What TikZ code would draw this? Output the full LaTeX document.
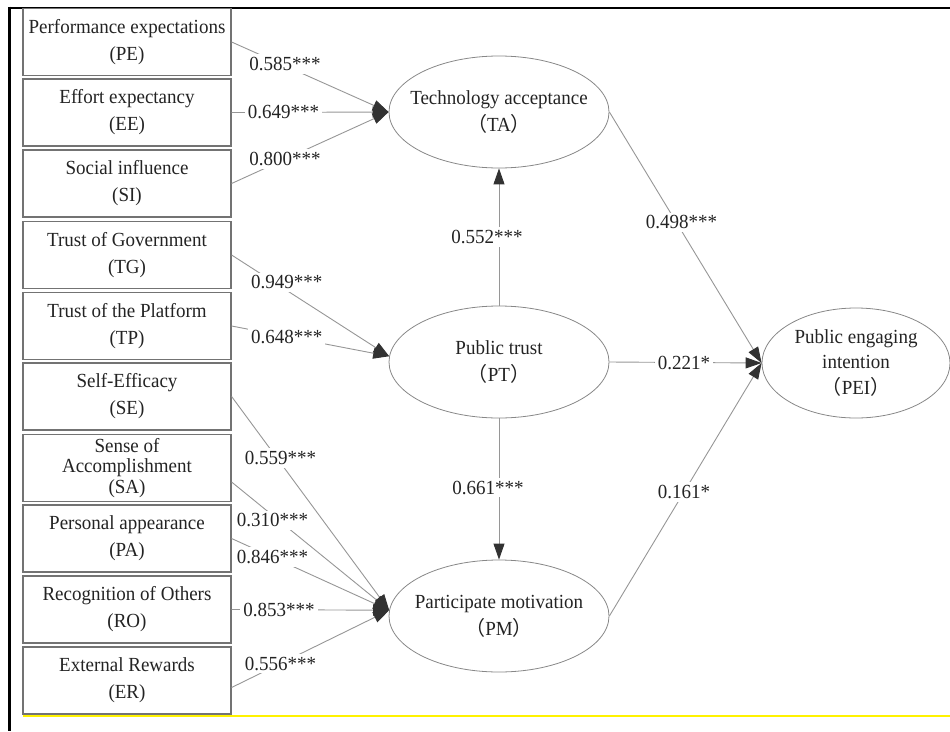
\documentclass[tikz,border=0pt]{standalone}
\usepackage{fontspec}
\setmainfont{Liberation Serif}[FakeStretch=0.95]
\newfontfamily\cjk{Noto Sans CJK SC}
\usetikzlibrary{arrows.meta,shapes.geometric,calc}
\definecolor{boxline}{RGB}{115,115,115}
\definecolor{ellline}{RGB}{135,135,135}
\definecolor{conline}{RGB}{150,150,150}
\definecolor{tipcol}{RGB}{50,50,50}
\definecolor{txt}{RGB}{35,35,35}
\newcommand{\fwl}{{\cjk （}}
\newcommand{\fwr}{{\cjk ）}}
\begin{document}
\begin{tikzpicture}[x=1pt,y=-1pt,
  every node/.style={font=\fontsize{20}{27}\selectfont, text=txt},
  varbox/.style={draw=boxline, line width=1.2pt, minimum width=208pt, minimum height=67pt, align=center, inner sep=0pt},
  latent/.style={draw=ellline, line width=0.8pt, ellipse, minimum width=220pt, minimum height=112pt, inner sep=0pt},
  conn/.style={draw=conline, line width=0.9pt, -{Triangle[length=16pt,width=11pt,color=tipcol]}},
  coef/.style={fill=white, inner sep=3pt},
]
\useasboundingbox (0,0) rectangle (950,731);
% frame
\draw[black, line width=2pt] (8,7.5) -- (950,7.5);
\draw[black, line width=3pt] (9,6.5) -- (9,731);
\draw[yellow, line width=2.5pt] (23,716) -- (950,716);

% observed variables
\node[varbox] (PE) at (127,42) {Performance expectations\\(PE)};
\node[varbox] (EE) at (127,112.5) {Effort expectancy\\(EE)};
\node[varbox] (SI) at (127,183.5) {Social influence\\(SI)};
\node[varbox] (TG) at (127,255) {Trust of Government\\(TG)};
\node[varbox] (TP) at (127,326) {Trust of the Platform\\(TP)};
\node[varbox] (SE) at (127,396.5) {Self-Efficacy\\(SE)};
\node[varbox, font=\fontsize{20}{20.5}\selectfont] (SA) at (127,468) {Sense of\\Accomplishment\\(SA)};
\node[varbox] (PA) at (127,538.5) {Personal appearance\\(PA)};
\node[varbox] (RO) at (127,609.5) {Recognition of Others\\(RO)};
\node[varbox] (ER) at (127,680.5) {External Rewards\\(ER)};

% latent variables
\node[latent] (TA) at (499,112) {};
\node[align=center] (TAt) at (TA) {Technology acceptance\\\fwl TA\fwr};
\node[latent] (PT) at (499,362) {};
\node[align=center] (PTt) at (PT) {Public trust\\\fwl PT\fwr};
\node[latent] (PM) at (499,616) {};
\node[align=center] (PMt) at (PM) {Participate motivation\\\fwl PM\fwr};
\node[latent, minimum width=188pt, minimum height=110pt] (PEI) at (856,363) {};
\node[align=center, font=\fontsize{20}{25.5}\selectfont] (PEIt) at (PEI) {Public engaging\\intention\\\fwl PEI\fwr};

% paths to TA
\draw[conn] (PE.east) -- node[coef,pos=0.34,yshift=2pt]{0.585***} (TA.west);
\draw[conn] (EE.east) -- node[coef,pos=0.33]{0.649***} (TA.west);
\draw[conn] (SI.east) -- node[coef,pos=0.34]{0.800***} (TA.west);
% paths to PT
\draw[conn] (TG.east) -- node[coef,pos=0.35,yshift=8pt]{0.949***} (PT.177);
\draw[conn] (TP.east) -- node[coef,pos=0.35]{0.648***} (PT.177);
% paths to PM
\draw[conn] (SE.east) -- node[coef,pos=0.31,yshift=5pt]{0.559***} (PM.177);
\draw[conn] ($(SA.east)+(0,14)$) -- node[coef,pos=0.26,yshift=-5pt]{0.310***} (PM.177);
\draw[conn] (PA.east) -- node[coef,pos=0.26]{0.846***} (PM.177);
\draw[conn] (RO.east) -- node[coef,pos=0.30]{0.853***} (PM.177);
\draw[conn] ($(ER.east)+(0,7)$) -- node[coef,pos=0.31]{0.556***} (PM.177);
% structural paths
\draw[conn] (PT.north) -- node[coef,pos=0.5,xshift=-12pt]{0.552***} (TA.south);
\draw[conn] (PT.south) -- node[coef,pos=0.49,xshift=-11pt]{0.661***} (PM.north);
\draw[conn] (TA.east) -- node[coef,pos=0.44,xshift=5pt]{0.498***} (PEI.west);
\draw[conn] (PT.east) -- node[coef,pos=0.49]{0.221*} (PEI.west);
\draw[conn] (PM.east) -- node[coef,pos=0.49]{0.161*} (PEI.west);
\end{tikzpicture}
\end{document}
